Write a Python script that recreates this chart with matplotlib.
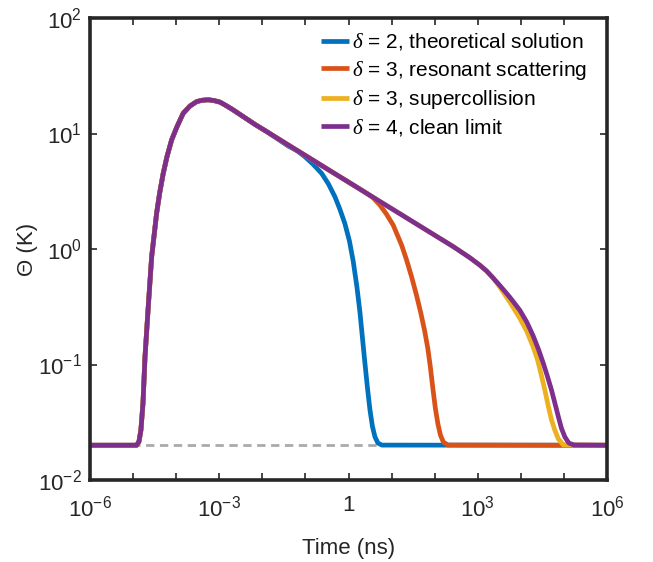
import matplotlib
matplotlib.use('Agg')
import matplotlib.pyplot as plt
from matplotlib.ticker import FixedLocator, FixedFormatter, NullLocator, NullFormatter

plt.rcParams['font.family'] = 'Liberation Sans'
plt.rcParams['mathtext.fontset'] = 'custom'
plt.rcParams['mathtext.rm'] = 'Liberation Sans'
plt.rcParams['mathtext.it'] = 'Liberation Serif:italic'
plt.rcParams['mathtext.bf'] = 'Liberation Sans:bold'

# shared rise and early decay (time in ns, temperature in K)
head_t = [1e-6, 1.21e-5, 1.37e-5, 1.52e-5, 1.70e-5, 1.89e-5, 2.25e-5, 2.70e-5,
          3.52e-5, 4.14e-5, 5.0e-5, 6.12e-5, 7.85e-5, 1.05e-4, 1.46e-4,
          2.09e-4, 2.99e-4, 3.97e-4, 5.56e-4, 7.53e-4, 1.04e-3, 1.43e-3,
          2.11e-3, 6.73e-3, 1.26e-2]
head_theta = [0.02, 0.02, 0.0215, 0.027, 0.0465, 0.116, 0.316, 0.857,
              2.04, 3.05, 4.5, 6.3, 8.8, 11.5, 15.0,
              17.3, 18.9, 19.4, 19.6, 19.3, 18.7, 17.5,
              16.0, 12.0, 10.4]

# delta = 2, theoretical solution
blue_t = [0.0399, 0.0635, 0.0973, 0.149, 0.238, 0.342, 0.483, 0.631, 0.824,
          1.05, 1.285, 1.57, 1.84, 2.10, 2.40, 2.75, 3.14, 3.59, 4.10, 4.81,
          5.96, 1e6]
blue_theta = [7.8, 7.1, 6.3, 5.44, 4.52, 3.66, 2.84, 2.21, 1.66,
              1.175, 0.785, 0.468, 0.285, 0.172, 0.1035, 0.063, 0.0407, 0.0292,
              0.0237, 0.0209, 0.02005, 0.02]

# part shared by the three slower curves
mid_t = [0.0399, 0.0973, 0.442, 1.41, 2.63]
mid_theta = [7.96, 6.49, 4.58, 3.51, 3.04]

# delta = 3, resonant scattering
orange_t = [3.68, 5.36, 7.57, 10.9, 17.1, 22.3, 29.1, 38.0, 47.9, 59.3, 69.6,
            79.4, 90.8, 104, 119, 136, 159, 202, 1e6]
orange_theta = [2.79, 2.40, 2.01, 1.61, 1.08, 0.803, 0.575, 0.396, 0.277, 0.1905,
                0.1365, 0.095, 0.0619, 0.0415, 0.0305, 0.0245, 0.0213, 0.0201, 0.02]

# part shared by supercollision and clean limit
late_t = [5.36, 15.6, 45.4, 269, 656, 1120, 1600, 2240]
late_theta = [2.58, 2.02, 1.58, 1.05, 0.841, 0.724, 0.646, 0.565]

# delta = 3, supercollision
yellow_t = [3260, 5560, 9480, 1.38e4, 1.93e4, 2.42e4, 3.02e4, 3.61e4, 4.31e4,
            5.11e4, 6.15e4, 7.41e4, 9.68e4, 1e6]
yellow_theta = [0.468, 0.347, 0.251, 0.193, 0.142, 0.111, 0.0796, 0.060, 0.044,
                0.0335, 0.027, 0.0227, 0.0201, 0.02]

# delta = 4, clean limit
purple_t = [3260, 5560, 9480, 1.38e4, 1.93e4, 2.55e4, 3.30e4, 4.12e4, 5.15e4,
            6.15e4, 7.35e4, 8.71e4, 1.05e5, 1.30e5, 1.70e5, 1e6]
purple_theta = [0.483, 0.382, 0.295, 0.232, 0.177, 0.136, 0.103, 0.0794, 0.060,
                0.0464, 0.0358, 0.0282, 0.0236, 0.0209, 0.0201, 0.02]

baseline = 0.02

labels = [r'$\delta$ = 2, theoretical solution',
          r'$\delta$ = 3, resonant scattering',
          r'$\delta$ = 3, supercollision',
          r'$\delta$ = 4, clean limit']
colors = ['#0072BD', '#D95319', '#EDB120', '#7E2F8E']

series = [
    (head_t + blue_t, head_theta + blue_theta),
    (head_t + mid_t + orange_t, head_theta + mid_theta + orange_theta),
    (head_t + mid_t + late_t + yellow_t, head_theta + mid_theta + late_theta + yellow_theta),
    (head_t + mid_t + late_t + purple_t, head_theta + mid_theta + late_theta + purple_theta),
]

fig = plt.figure(figsize=(6.53, 5.62), dpi=100)
ax = fig.add_axes([0.1378, 0.1459, 0.7918, 0.822])

ax.axhline(baseline, color='#AAAAAA', lw=2, dashes=(3, 2), zorder=1)
for (t, th), c, lab in zip(series, colors, labels):
    ax.plot(t, th, color=c, lw=3.4, label=lab, zorder=2,
            solid_joinstyle='round', solid_capstyle='butt')

ax.set_xscale('log')
ax.set_yscale('log')
ax.set_xlim(1e-6, 1e6)
ax.set_ylim(1e-2, 1e2)

xt = [1e-6, 1e-3, 1, 1e3, 1e6]
xl = [r'$\mathregular{10^{-6}}$', r'$\mathregular{10^{-3}}$', '1',
      r'$\mathregular{10^{3}}$', r'$\mathregular{10^{6}}$']
yt = [1e-2, 1e-1, 1, 1e1, 1e2]
yl = [r'$\mathregular{10^{-2}}$', r'$\mathregular{10^{-1}}$', r'$\mathregular{10^{0}}$',
      r'$\mathregular{10^{1}}$', r'$\mathregular{10^{2}}$']
ax.xaxis.set_major_locator(FixedLocator(xt))
ax.xaxis.set_major_formatter(FixedFormatter(xl))
ax.xaxis.set_minor_locator(FixedLocator([10.0 ** k for k in range(-6, 7)]))
ax.xaxis.set_minor_formatter(NullFormatter())
ax.yaxis.set_major_locator(FixedLocator(yt))
ax.yaxis.set_major_formatter(FixedFormatter(yl))
ax.yaxis.set_minor_locator(NullLocator())

for s in ax.spines.values():
    s.set_linewidth(2.6)
    s.set_color('#262626')
ax.tick_params(which='both', direction='in', top=True, right=True,
               length=5, width=1.2, color='#262626', labelsize=16,
               labelcolor='#262626')
ax.tick_params(axis='x', pad=11)
ax.tick_params(axis='y', pad=6)

ax.set_xlabel('Time (ns)', fontsize=16, color='#262626')
ax.xaxis.set_label_coords(0.5, -0.125)
ax.set_ylabel('\u0398 (K)', fontsize=16, color='#262626')
ax.yaxis.set_label_coords(-0.10, 0.5)

ax.legend(loc='upper right', bbox_to_anchor=(0.985, 0.998), frameon=False,
          fontsize=15, handlelength=1.35, handletextpad=0.12,
          labelspacing=0.3, borderaxespad=0.2)

fig.savefig('out.png', dpi=100)
